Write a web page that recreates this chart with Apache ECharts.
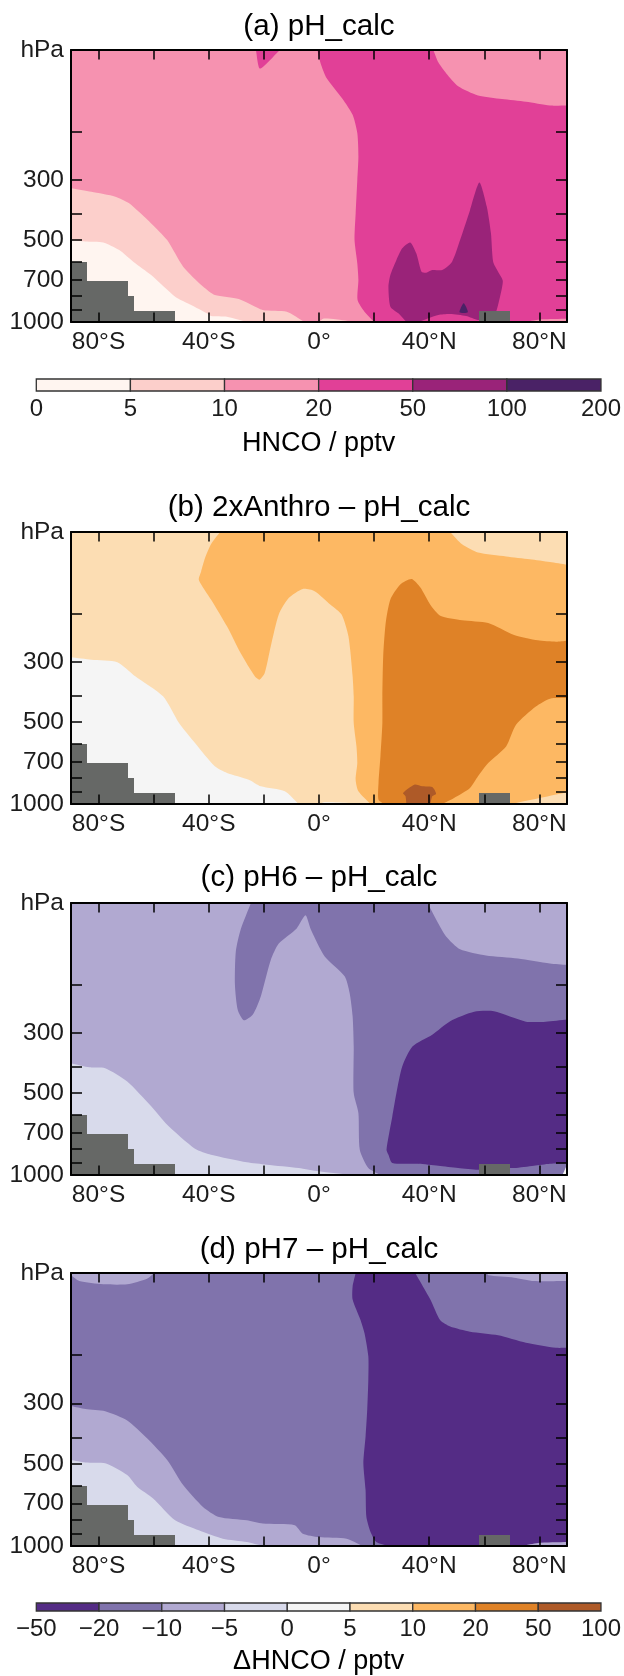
<!DOCTYPE html>
<html><head><meta charset="utf-8">
<style>html,body{margin:0;padding:0;background:#fff}#c{width:624px;height:1676px}</style>
<script src="https://cdn.jsdelivr.net/npm/echarts@6/dist/echarts.min.js"></script>
</head><body><div id="c"></div>
<script>
// ---- scales ----
const latTicks=[-80,-60,-40,-20,0,20,40,60,80];
const latLabels=[-80,-40,0,40,80];
const pressureTicks=[200,300,400,500,600,700,800,900];
const pressureLabels=[100,300,500,700,1000];
const seqBreaks=['0','5','10','20','50','100','200'];
const divBreaks=['\u221250','\u221220','\u221210','\u22125','0','5','10','20','50','100'];
const seqColors=['#FFF5F0','#FCCFCB','#F692B0','#E14097','#9A2379','#4A2266'];
const divColors=['#542C85','#8073AC','#B1A9D1','#D8DAEB','#F5F5F5','#FCDDB3','#FDB863','#DF8227','#AE5A28'];
const maskColor='#666866';
// unsampled surface: [lat from, lat to, surface pressure hPa]
const surfaceMask=[[-90,-84.3,602],[-84.3,-69.4,705],[-69.4,-67.3,805],[-67.3,-52.3,910],[58,69.3,910]];

// ---- panel a: contour regions [lat,hPa] ----
const a10to20=[[-90,100],[90,100],[90,1000],[-90,1000]];
const a20to50=[[-0.6,100],[0.6,112],[2.8,127],[8.5,151],[12.2,173],[13.9,202],[14.3,247],[13.9,301],[13.3,399],[12.9,500],[13.9,609],[14.3,700],[14,830],[16.5,916],[20.1,1000],[90,1000],[90,160],[83.8,160],[75.1,155],[66.4,151.5],[57.7,147],[50.5,136],[46.2,122],[43.3,111],[41.5,100]];
const a20to50top=[[-22.9,100],[-21.4,117],[-14.2,100]];
const a50to100=[[25.2,741],[25.9,672],[28.1,592],[30.2,536],[33.1,510],[35.3,559],[37.2,653],[38.9,659],[41.1,644],[44.7,644],[48.3,600],[51.2,500],[54.8,388],[58.2,307],[60.9,377],[62.4,472],[63.2,600],[65,653],[66.7,705],[65.7,807],[63.5,956],[59.9,978],[57.7,983],[53.4,950],[47.6,934],[43.3,942],[36,1000],[31.7,1000],[28.8,929],[25.9,878]];
const a100to200=[[51,921],[52.5,854],[54,921]];
const a5to10=[[-90,322],[-82.6,332],[-73.9,346],[-68.9,366],[-60.9,434],[-55.1,500],[-49.3,626],[-42.1,741],[-37.8,796],[-29.1,823],[-20.4,903],[-11.7,916],[-5.2,1000],[-90,1000]];
const a5to10eq=[[-0.1,1000],[1.5,972],[6,978],[13,1000]];
const a0to5=[[-90,500],[-84.8,506],[-78.3,510],[-72.5,544],[-67.4,600],[-60.9,672],[-52.2,807],[-46.4,866],[-40.7,929],[-39.2,950],[-33.4,956],[-26.2,1000],[-90,1000]];
const a10to20ne=[[75.1,1000],[80.9,978],[90,972],[90,1000]];

// ---- panel b ----
const b5to10=[[-90,100],[90,100],[90,1000],[-90,1000]];
const b10to20=[[-35.9,100],[-39.2,111],[-41.4,125],[-42.8,140],[-43.6,150],[-39.2,177],[-33.4,222],[-28.4,279],[-23.3,339],[-21.6,349],[-19.7,330],[-17.5,263],[-14.6,201],[-11,175],[-5.9,162],[-1.6,165],[4.2,185],[8.2,201],[10.7,242],[12.2,339],[12.6,402],[12.6,504],[13.6,614],[13.9,707],[13.3,814],[14.3,898],[18.7,1000],[70,1000],[90,906],[90,132],[83.8,129],[76.5,126],[67.9,123],[57.7,119],[51.9,111],[47.6,100]];
const b20to50=[[21.6,837],[22.3,668],[23,504],[23,402],[23.3,286],[24.2,216],[25.9,177],[29.5,156],[33.6,149],[36.8,160],[40.4,185],[44,203],[51.9,211],[61.4,216],[70.8,239],[79.4,250],[86,253],[90,251],[90,408],[83.8,410],[78.7,438],[71.5,511],[67.9,614],[61.4,707],[57.7,791],[54.8,873],[49,950],[44.7,1000],[23.7,1000],[21.6,964]];
const b50to100=[[30.5,911],[34.6,849],[37.5,861],[41.1,866],[42.5,916],[41.1,937],[40.4,1000],[31.7,1000],[31.4,937]];
const b0to5=[[-90,289],[-82.6,295],[-73.2,301],[-66.7,339],[-56.6,402],[-50.8,504],[-45,597],[-37.8,727],[-33.4,769],[-25.5,814],[-21.1,861],[-12.4,898],[-7.4,1000],[-90,1000]];
const b0to5eq=[[-0.1,1000],[2,986],[11.4,992],[18.7,1000]];

// ---- panel c ----
const cM10toM5=[[-90,100],[90,100],[90,1000],[-90,1000]];
const cM20toM10=[[-24.7,100],[-28.4,125],[-30.2,151],[-30.5,200],[-29.5,247],[-27.3,270],[-24,257],[-21.1,220],[-17.5,162],[-14.6,141],[-8.1,124],[-4.9,111],[-3,125],[2,157],[9.3,186],[11.1,214],[12.2,261],[12.6,337],[12.6,500],[14.3,592],[14.8,807],[17.9,942],[22.3,1000],[88.4,1000],[90,916],[90,169],[83.8,167],[72.2,160],[60.6,156],[51.2,148],[46.2,133],[43.3,119],[39.4,100]];
const cM50toM20=[[24.5,807],[26.6,609],[28.1,500],[30.2,399],[33.9,337],[41.1,305],[47.6,272],[56.3,251],[63.5,250],[75.1,273],[82.3,273],[90,268],[90,903],[83.8,909],[78,924],[70.8,942],[63.5,942],[57.7,956],[50.5,942],[43.3,924],[36,909],[26.6,903],[25.2,842]];
const cM5to0=[[-90,388],[-83.3,402],[-77.6,405],[-69.6,453],[-60.9,559],[-55.1,653],[-45,800],[-39.2,842],[-26.2,898],[-19,916],[-7.4,942],[-0.1,969],[12.2,1000],[-90,1000]];
const c0to5ne=[[88.4,1000],[90,916],[90,1000]];

// ---- panel d ----
const dM20toM10=[[-90,100],[90,100],[90,1000],[-90,1000]];
const dM50toM20=[[13.3,100],[12.2,112],[12.2,125],[15,148],[16.5,166],[17.9,202],[17.9,246],[17.5,317],[16.9,397],[16.1,498],[16.9,624],[17.2,783],[18.7,888],[20.8,967],[25.2,1000],[90,1000],[90,188],[86,188],[75.1,180],[65,169],[54.8,164],[47.6,157],[44,149],[40.4,125],[34.9,100]];
const dM10toM5=[[-90,307],[-84.8,315],[-77.6,321],[-69.6,347],[-62.4,403],[-55.1,484],[-49.3,598],[-42.1,719],[-36.3,783],[-26.2,805],[-20.4,828],[-8.8,839],[-5.9,901],[-0.1,927],[10,940],[15.8,1000],[-90,1000]];
const dM10toM5nw=[[-90,100],[-90,102],[-87,107],[-78.3,110],[-69.6,110],[-62.4,105],[-59.8,100]];
const dM10toM5ne=[[61,100],[61.4,102],[70.8,104],[78,107],[90,107],[90,100]];
const dM10toM5se=[[73.7,1000],[79.4,975],[90,967],[90,1000]];
const dM5to0=[[-90,484],[-84.8,494],[-77.6,498],[-69.6,550],[-66,607],[-60.2,670],[-52.2,805],[-43.6,876],[-34.9,940],[-26.2,967],[-20.4,1000],[-90,1000]];

// ---- layers, bottom to top: [colour index, region] ----
const panels=[
 {title:'(a) pH_calc',top:50,height:272,titleY:21.5,colors:seqColors,layers:[[2,a10to20],[3,a20to50],[3,a20to50top],[4,a50to100],[5,a100to200],[1,a5to10],[1,a5to10eq],[0,a0to5],[2,a10to20ne]]},
 {title:'(b) 2xAnthro \u2013 pH_calc',top:532,height:272,titleY:503,colors:divColors,layers:[[5,b5to10],[6,b10to20],[7,b20to50],[8,b50to100],[4,b0to5],[4,b0to5eq]]},
 {title:'(c) pH6 \u2013 pH_calc',top:903,height:272,titleY:873,colors:divColors,layers:[[2,cM10toM5],[1,cM20toM10],[0,cM50toM20],[3,cM5to0],[4,c0to5ne]]},
 {title:'(d) pH7 \u2013 pH_calc',top:1273,height:273,titleY:1245,colors:divColors,layers:[[1,dM20toM10],[0,dM50toM20],[2,dM10toM5],[2,dM10toM5nw],[2,dM10toM5ne],[2,dM10toM5se],[3,dM5to0]]}
];
const bars=[
 {top:379,height:12,name:'HNCO / pptv',nameGap:39.5,breaks:seqBreaks,colors:seqColors},
 {top:1603,height:11.5,name:'\u0394HNCO / pptv',nameGap:37,breaks:divBreaks,colors:divColors}
];

const FONT='"Liberation Sans",Arial,sans-serif', INK='#1c1c1c';
const grid=[],xAxis=[],yAxis=[],series=[],title=[];
const latFmt=v=>v===0?'0\u00b0':Math.abs(v)+'\u00b0'+(v<0?'S':'N');
const onFrame=q=>Math.abs(q[0])===90||q[1]===100||q[1]===1000;

panels.forEach(p=>{
  const g=grid.length;
  grid.push({left:71,width:496,top:p.top,height:p.height});
  title.push({text:p.title,left:314,top:p.titleY,textAlign:'center',textVerticalAlign:'middle',
    textStyle:{fontFamily:FONT,fontWeight:'normal',fontSize:29.6,color:'#000'}});
  const line={show:true,onZero:false,lineStyle:{color:'#000',width:2}};
  const xt={show:true,inside:true,length:9.5,customValues:latTicks,lineStyle:{color:'#000',width:1.5}};
  const yt={show:true,inside:true,length:11,customValues:pressureTicks,lineStyle:{color:'#000',width:1.5}};
  const x0=xAxis.length,y0=yAxis.length;
  xAxis.push({gridIndex:g,type:'value',min:-90,max:90,position:'bottom',z:10,axisLine:line,splitLine:{show:false},axisTick:xt,
    axisLabel:{customValues:latLabels,formatter:latFmt,margin:8,fontFamily:FONT,fontSize:24.5,color:INK}});
  xAxis.push({gridIndex:g,type:'value',min:-90,max:90,position:'top',z:10,axisLine:line,splitLine:{show:false},axisTick:xt,axisLabel:{show:false}});
  yAxis.push({gridIndex:g,type:'log',logBase:10,min:100,max:1000,inverse:true,position:'left',z:10,axisLine:line,splitLine:{show:false},minorTick:{show:false},axisTick:yt,
    axisLabel:{customValues:pressureLabels,formatter:v=>Math.round(v)===100?'hPa':String(Math.round(v)),margin:7,fontFamily:FONT,fontSize:24.5,color:INK}});
  yAxis.push({gridIndex:g,type:'log',logBase:10,min:100,max:1000,inverse:true,position:'right',z:10,axisLine:line,splitLine:{show:false},minorTick:{show:false},axisTick:yt,axisLabel:{show:false}});
  series.push({type:'custom',xAxisIndex:x0,yAxisIndex:y0,clip:true,silent:true,z:2,
    data:p.layers.map((l,i)=>[i]),
    renderItem:(params,api)=>{const l=p.layers[params.dataIndex];
      // points on the frame are doubled so the library's smoothing keeps those corners sharp
      const pts=[];l[1].forEach(q=>{const c=api.coord(q);pts.push(c);if(onFrame(q))pts.push(c.slice());});
      return {type:'polygon',shape:{points:pts,smooth:0.22},style:{fill:p.colors[l[0]],stroke:null}};}});
  series.push({type:'custom',xAxisIndex:x0,yAxisIndex:y0,clip:true,silent:true,z:3,
    data:surfaceMask.map((m,i)=>[i]),
    renderItem:(params,api)=>{const m=surfaceMask[params.dataIndex];
      const a=api.coord([m[0],m[2]]),b=api.coord([m[1],1000]);
      const x0=Math.round(a[0]),x1=Math.round(b[0]),y0=Math.round(a[1]);
      return {type:'rect',shape:{x:x0,y:y0,width:x1-x0,height:b[1]-y0},style:{fill:maskColor}};}});
});

bars.forEach(b=>{
  const g=grid.length;
  grid.push({left:36.3,width:565.4,top:b.top,height:b.height});
  const n=b.colors.length;
  xAxis.push({gridIndex:g,type:'value',min:0,max:n,interval:1,position:'bottom',axisLine:{show:false},axisTick:{show:false},splitLine:{show:false},
    axisLabel:{formatter:v=>b.breaks[Math.round(v)],margin:6,fontFamily:FONT,fontSize:24,color:INK},
    name:b.name,nameLocation:'middle',nameGap:b.nameGap,nameTextStyle:{fontFamily:FONT,fontSize:27,color:'#000'}});
  yAxis.push({gridIndex:g,type:'value',min:0,max:1,show:false});
  series.push({type:'custom',xAxisIndex:xAxis.length-1,yAxisIndex:yAxis.length-1,silent:true,clip:false,
    data:b.colors.map((c,i)=>[i]),
    renderItem:(params,api)=>{const i=params.dataIndex,s=api.coord([i,1]),e=api.coord([i+1,0]);
      return {type:'rect',shape:{x:s[0],y:s[1],width:e[0]-s[0],height:e[1]-s[1]},style:{fill:b.colors[i],stroke:'#333',lineWidth:1.3}};}});
});

const chart=echarts.init(document.getElementById('c'),null,{renderer:'canvas',width:624,height:1676});
chart.setOption({animation:false,backgroundColor:'#fff',title,grid,xAxis,yAxis,series});
</script></body></html>
